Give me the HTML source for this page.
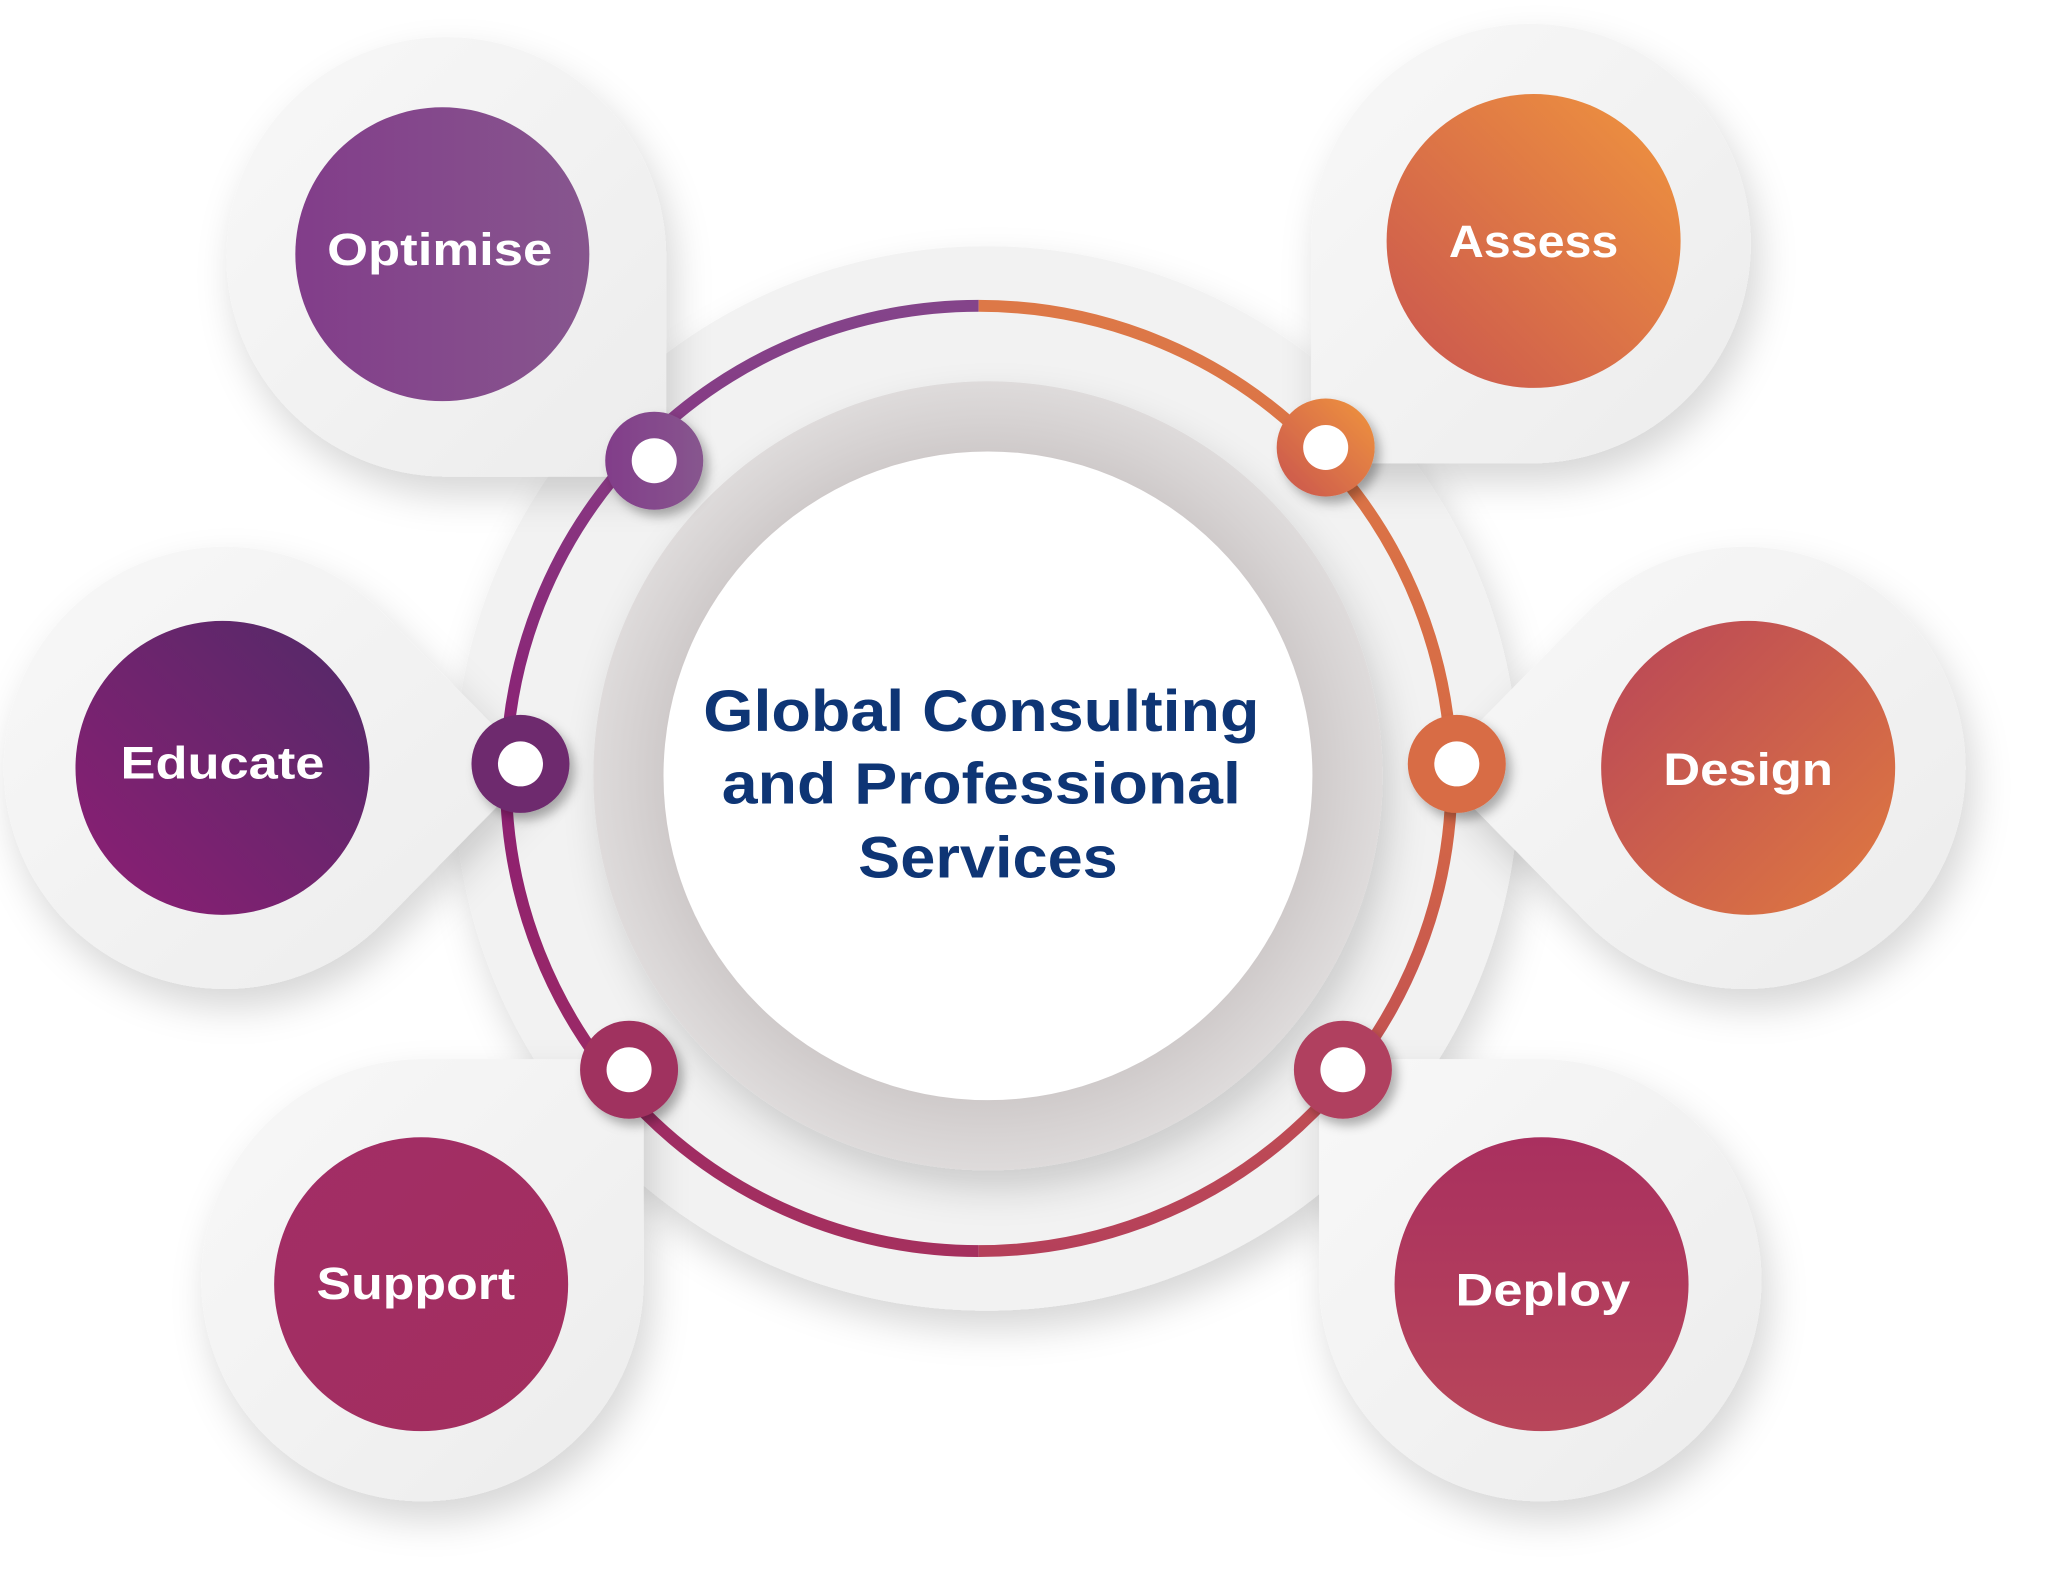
<!DOCTYPE html>
<html><head><meta charset="utf-8"><style>
html,body{margin:0;padding:0;background:#fff;width:2066px;height:1594px;overflow:hidden}
svg{display:block}
text{font-family:"Liberation Sans",sans-serif;font-weight:bold}
</style></head><body>
<svg width="2066" height="1594" viewBox="0 0 1560 1204" preserveAspectRatio="none" xmlns="http://www.w3.org/2000/svg">
<defs>
<filter id="sh" x="-30%" y="-30%" width="160%" height="160%"><feDropShadow dx="6" dy="14" stdDeviation="14" flood-color="#000" flood-opacity="0.16"/></filter>
<filter id="sh2" x="-50%" y="-50%" width="200%" height="200%"><feDropShadow dx="4" dy="5" stdDeviation="4" flood-color="#000" flood-opacity="0.3"/></filter>
<linearGradient id="pet" x1="0" y1="0" x2="1" y2="1"><stop offset="0" stop-color="#f8f8f8"/><stop offset="1" stop-color="#ececec"/></linearGradient>
<linearGradient id="gOpt" x1="0" y1="0" x2="1" y2="0"><stop offset="0" stop-color="#823d8a"/><stop offset="1" stop-color="#87568e"/></linearGradient>
<linearGradient id="gAss" x1="0" y1="1" x2="1" y2="0"><stop offset="0" stop-color="#c9544f"/><stop offset="1" stop-color="#f0953e"/></linearGradient>
<linearGradient id="gEdu" x1="0" y1="1" x2="1" y2="0"><stop offset="0" stop-color="#8e1e74"/><stop offset="1" stop-color="#512a68"/></linearGradient>
<linearGradient id="gDes" x1="0" y1="0" x2="1" y2="1"><stop offset="0" stop-color="#b84558"/><stop offset="1" stop-color="#e07a40"/></linearGradient>
<linearGradient id="gSup" x1="0" y1="0" x2="1" y2="1"><stop offset="0" stop-color="#a22d66"/><stop offset="1" stop-color="#a32f5e"/></linearGradient>
<linearGradient id="gDep" x1="0" y1="0" x2="0" y2="1"><stop offset="0" stop-color="#a9305f"/><stop offset="1" stop-color="#b8465a"/></linearGradient>
<linearGradient id="ringL" x1="0" y1="0" x2="0" y2="1"><stop offset="0" stop-color="#84448a"/><stop offset="0.5" stop-color="#8c1f72"/><stop offset="1" stop-color="#a5305e"/></linearGradient>
<linearGradient id="ringR" x1="0" y1="0" x2="0" y2="1"><stop offset="0" stop-color="#dd7847"/><stop offset="0.5" stop-color="#d66a45"/><stop offset="1" stop-color="#b5405a"/></linearGradient>
<radialGradient id="gray" cx="0.5" cy="0.5" r="0.5"><stop offset="0.8" stop-color="#cdc8c8"/><stop offset="0.9" stop-color="#d6d2d2"/><stop offset="1" stop-color="#dedbdb"/></radialGradient>
</defs>

<circle cx="745" cy="588" r="402" fill="#f2f2f2" filter="url(#sh)"/>

<g filter="url(#sh)" fill="url(#pet)">
<path d="M503,195 L503,360 L336,360 A166,166 0 1 1 503,195 Z"/>
<path d="M990,184 L990,350 L1157,350 A166,166 0 1 0 990,184 Z"/>
<path d="M486,967 L486,800 L319,800 A167,167 0 1 0 486,967 Z"/>
<path d="M996,967 L996,800 L1163,800 A167,167 0 1 1 996,967 Z"/>
<path d="M404,580 L289,697 A167,167 0 1 1 289,463 Z"/>
<path d="M1083,580 L1198,463 A167,167 0 1 1 1198,697 Z"/>
</g>

<path d="M739,231 A355,355 0 0 0 739,945" fill="none" stroke="url(#ringL)" stroke-width="9"/>
<path d="M739,231 A355,355 0 0 1 739,945" fill="none" stroke="url(#ringR)" stroke-width="9"/>

<circle cx="746" cy="586" r="298" fill="url(#gray)" filter="url(#sh)"/>
<circle cx="746" cy="586" r="245" fill="#fff"/>

<text x="741" y="552" font-size="44" fill="#0e3575" text-anchor="middle" textLength="420" lengthAdjust="spacingAndGlyphs">Global Consulting</text>
<text x="741" y="607" font-size="44" fill="#0e3575" text-anchor="middle" textLength="392" lengthAdjust="spacingAndGlyphs">and Professional</text>
<text x="746" y="663" font-size="44" fill="#0e3575" text-anchor="middle" textLength="196" lengthAdjust="spacingAndGlyphs">Services</text>

<g filter="url(#sh2)">
<circle cx="494" cy="348" r="37" fill="url(#gOpt)"/>
<circle cx="1001" cy="338" r="37" fill="url(#gAss)"/>
<circle cx="393" cy="577" r="37" fill="#6e2a6e"/>
<circle cx="1100" cy="577" r="37" fill="#d86c45"/>
<circle cx="475" cy="808" r="37" fill="#a0305f"/>
<circle cx="1014" cy="808" r="37" fill="#b0405e"/>
</g>
<g fill="#fff">
<circle cx="494" cy="348" r="17"/><circle cx="1001" cy="338" r="17"/>
<circle cx="393" cy="577" r="17"/><circle cx="1100" cy="577" r="17"/>
<circle cx="475" cy="808" r="17"/><circle cx="1014" cy="808" r="17"/>
</g>

<circle cx="334" cy="192" r="111" fill="url(#gOpt)"/>
<circle cx="1158" cy="182" r="111" fill="url(#gAss)"/>
<circle cx="168" cy="580" r="111" fill="url(#gEdu)"/>
<circle cx="1320" cy="580" r="111" fill="url(#gDes)"/>
<circle cx="318" cy="970" r="111" fill="url(#gSup)"/>
<circle cx="1164" cy="970" r="111" fill="url(#gDep)"/>

<g fill="#fff" font-size="34" text-anchor="middle">
<text x="332" y="200" textLength="170" lengthAdjust="spacingAndGlyphs">Optimise</text>
<text x="1158" y="194" textLength="128" lengthAdjust="spacingAndGlyphs">Assess</text>
<text x="168" y="588" textLength="154" lengthAdjust="spacingAndGlyphs">Educate</text>
<text x="1320" y="593" textLength="128" lengthAdjust="spacingAndGlyphs">Design</text>
<text x="314" y="981" textLength="150" lengthAdjust="spacingAndGlyphs">Support</text>
<text x="1165" y="986" textLength="132" lengthAdjust="spacingAndGlyphs">Deploy</text>
</g>
</svg>
</body></html>
